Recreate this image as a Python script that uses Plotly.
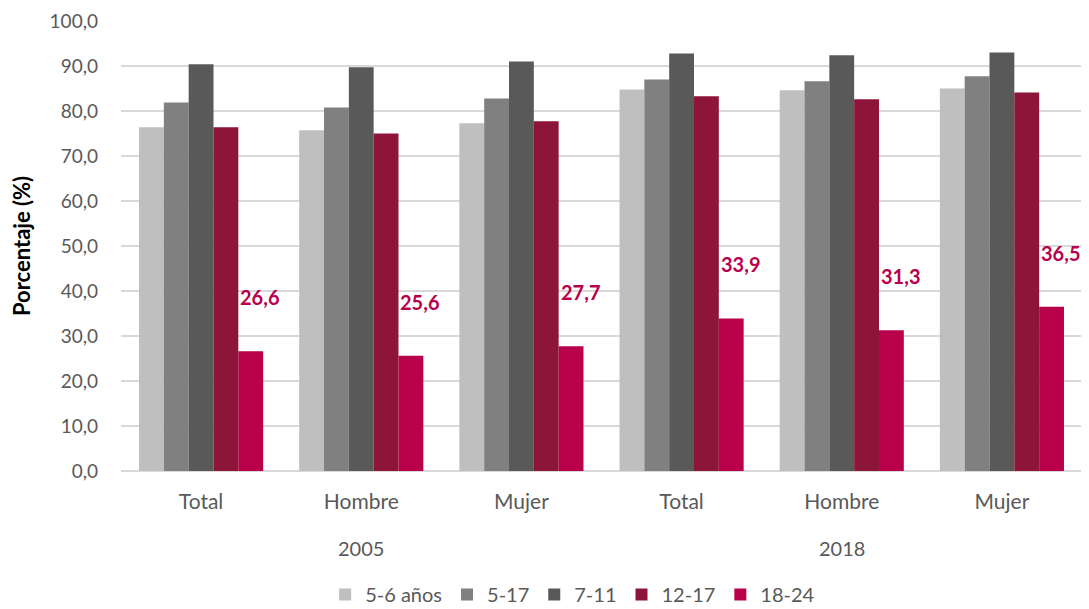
import plotly.graph_objects as go

categories = ["Total", "Hombre", "Mujer", "Total", "Hombre", "Mujer"]
years = ["2005", "2018"]
series_names = ["5-6 años", "5-17", "7-11", "12-17", "18-24"]
v_5_6 = [76.4, 75.7, 77.3, 84.8, 84.6, 85.0]
v_5_17 = [81.9, 80.8, 82.8, 87.0, 86.6, 87.7]
v_7_11 = [90.4, 89.7, 91.0, 92.8, 92.4, 93.0]
v_12_17 = [76.4, 75.0, 77.7, 83.3, 82.6, 84.1]
v_18_24 = [26.6, 25.6, 27.7, 33.9, 31.3, 36.5]
y_ticks = [0, 10, 20, 30, 40, 50, 60, 70, 80, 90, 100]

colors = ["#BFBFBF", "#808080", "#595959", "#8C1539", "#B8004B"]
FONT = "Lato"

x = list(range(len(categories)))
fig = go.Figure()
for name, vals, c in zip(series_names, [v_5_6, v_5_17, v_7_11, v_12_17, v_18_24], colors):
    fig.add_trace(go.Bar(x=x, y=vals, name=name, marker=dict(color=c, line=dict(width=0)),
                         hoverinfo="skip"))

# data labels for 18-24
n = len(series_names)
bar_w = (1 - 0.225) / n
for i, v in enumerate(v_18_24):
    xpos = i - 0.5 + 0.225 / 2 + bar_w * (n - 0.5)
    fig.add_annotation(x=xpos, y=v, text=f"<b>{v:.1f}</b>".replace(".", ","),
                       showarrow=False, xanchor="center", yanchor="bottom",
                       xshift=9, yshift=40, font=dict(family=FONT, size=20, color="#B8004B"))

# year labels
for j, yr in enumerate(years):
    fig.add_annotation(x=1 + 3 * j, y=-0.171, xref="x", yref="paper", text=yr,
                       showarrow=False, yanchor="middle",
                       font=dict(family=FONT, size=20, color="#595959"))

fig.update_layout(
    width=1081, height=601,
    margin=dict(l=113, r=7, t=13, b=138, autoexpand=False),
    plot_bgcolor="white", paper_bgcolor="white",
    barmode="group", bargap=0.225, bargroupgap=0,
    font=dict(family=FONT, size=16, color="#595959"),
    showlegend=True,
    legend=dict(orientation="h", x=0.47, xanchor="center", y=-0.318, yanchor="bottom",
                font=dict(family=FONT, size=20, color="#595959"),
                traceorder="normal"),
    xaxis=dict(range=[-0.5, 5.5], tickvals=x, ticktext=categories, showgrid=False,
               zeroline=False, showline=False, ticks="", ticklabelstandoff=16, automargin=False,
               tickfont=dict(family=FONT, size=21, color="#595959"), fixedrange=True),
    yaxis=dict(range=[0, 100], tickvals=y_ticks,
               ticktext=[f"{t:.1f}".replace(".", ",") for t in y_ticks],
               showgrid=True, gridcolor="#D9D9D9", gridwidth=1.5,
               zeroline=True, zerolinecolor="#D9D9D9", zerolinewidth=1.5,
               showline=False, ticks="", ticklabelstandoff=22, automargin=False,
               tickfont=dict(family=FONT, size=19, color="#595959"),
               title=dict(text="<b>Porcentaje (%)</b>", standoff=18,
                          font=dict(family=FONT, size=22, color="#000000")),
               fixedrange=True),
)

fig.write_html("out.html")
